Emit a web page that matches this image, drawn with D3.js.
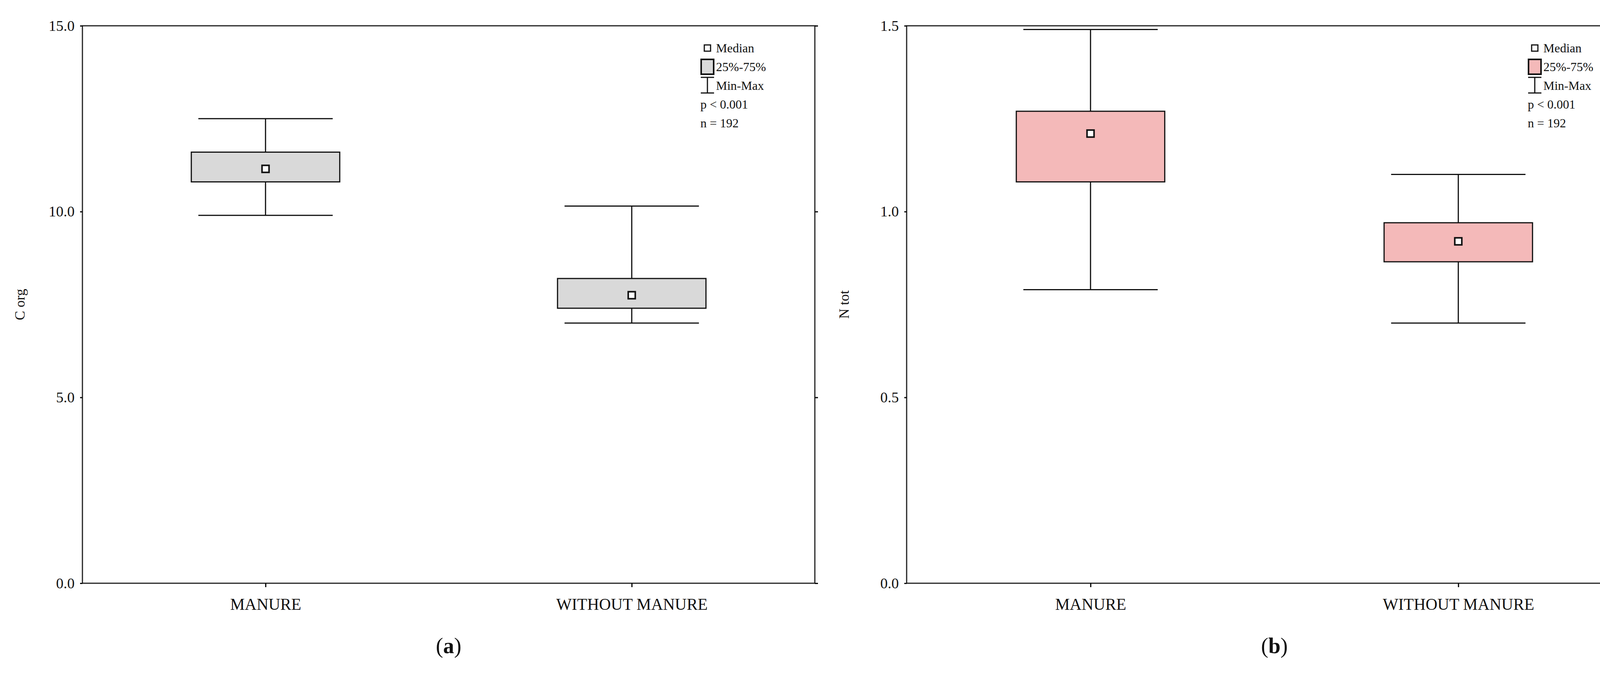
<!DOCTYPE html>
<html>
<head>
<meta charset="UTF-8">
<script src="https://d3js.org/d3.v7.min.js"></script>
<style>
  body { margin: 0; background: #fff; }
  text { font-family: "Liberation Serif", "DejaVu Serif", serif; fill: #111; }
</style>
</head>
<body>
<svg id="chart" width="4303" height="1733"></svg>
<script>
// data
const categories = ["MANURE", "WITHOUT MANURE"];
const corgMin = [9.9, 7.0];
const corgQ1 = [10.8, 7.4];
const corgMed = [11.15, 7.75];
const corgQ3 = [11.6, 8.2];
const corgMax = [12.5, 10.15];
const ntotMin = [0.79, 0.70];
const ntotQ1 = [1.08, 0.865];
const ntotMed = [1.21, 0.92];
const ntotQ3 = [1.27, 0.97];
const ntotMax = [1.49, 1.10];
const corgTicks = [0, 5, 10, 15];
const ntotTicks = [0, 0.5, 1.0, 1.5];
const legendLines = ["Median", "25%-75%", "Min-Max", "p < 0.001", "n = 192"];

const svg = d3.select("#chart");

function panel(opt) {
  const left = opt.left, right = opt.right, top = 66, bottom = 1493;
  const g = svg.append("g");
  const x = d3.scalePoint().domain(categories).range([left, right]).padding(0.5);
  const y = d3.scaleLinear().domain(opt.domain).range([bottom, top]);

  g.append("rect").attr("x", left).attr("y", top)
    .attr("width", right - left).attr("height", bottom - top)
    .attr("fill", "none").attr("stroke", "#222").attr("stroke-width", 3);

  const yAxis = g.append("g").attr("transform", `translate(${left},0)`)
    .call(d3.axisLeft(y).tickValues(opt.ticks).tickFormat(d3.format(".1f")).tickSize(6).tickPadding(14));
  yAxis.select(".domain").remove();
  yAxis.selectAll("text").attr("font-size", 38);
  yAxis.selectAll("line").attr("stroke-width", 3);

  const yRight = g.append("g").attr("transform", `translate(${right},0)`)
    .call(d3.axisRight(y).tickValues(opt.ticks).tickFormat("").tickSize(8));
  yRight.select(".domain").remove();
  yRight.selectAll("line").attr("stroke-width", 3);

  const xAxis = g.append("g").attr("transform", `translate(0,${bottom})`)
    .call(d3.axisBottom(x).tickSize(10).tickPadding(28));
  xAxis.select(".domain").remove();
  xAxis.selectAll("text").attr("font-size", 42);
  xAxis.selectAll("line").attr("stroke-width", 3);

  g.append("text").attr("transform", `translate(${left - 148},${(top + bottom) / 2}) rotate(-90)`)
    .attr("text-anchor", "middle").attr("font-size", 36).text(opt.label);

  const boxW = 380, capW = 344;
  categories.forEach((c, i) => {
    const cx = x(c);
    g.append("line").attr("x1", cx).attr("x2", cx).attr("y1", y(opt.max[i])).attr("y2", y(opt.min[i])).attr("stroke", "#111").attr("stroke-width", 3);
    [opt.min[i], opt.max[i]].forEach(v => {
      g.append("line").attr("x1", cx - capW / 2).attr("x2", cx + capW / 2).attr("y1", y(v)).attr("y2", y(v)).attr("stroke", "#111").attr("stroke-width", 3);
    });
    g.append("rect").attr("x", cx - boxW / 2).attr("y", y(opt.q3[i]))
      .attr("width", boxW).attr("height", y(opt.q1[i]) - y(opt.q3[i]))
      .attr("fill", opt.fill).attr("stroke", "#111").attr("stroke-width", 3);
    g.append("rect").attr("x", cx - 9).attr("y", y(opt.med[i]) - 9).attr("width", 18).attr("height", 18)
      .attr("fill", "#fff").attr("stroke", "#111").attr("stroke-width", 4);
  });

  // legend
  const lx = right - 275, ly = 123, dy = 48;
  g.append("rect").attr("x", lx - 8).attr("y", ly - 8).attr("width", 16).attr("height", 16)
    .attr("fill", "#fff").attr("stroke", "#111").attr("stroke-width", 3);
  g.append("rect").attr("x", lx - 16).attr("y", ly + dy - 19).attr("width", 32).attr("height", 38)
    .attr("fill", opt.fill).attr("stroke", "#111").attr("stroke-width", 4);
  const my = ly + 2 * dy;
  g.append("line").attr("x1", lx - 17).attr("x2", lx + 17).attr("y1", my - 21).attr("y2", my - 21).attr("stroke", "#111").attr("stroke-width", 3);
  g.append("line").attr("x1", lx - 17).attr("x2", lx + 17).attr("y1", my + 19).attr("y2", my + 19).attr("stroke", "#111").attr("stroke-width", 3);
  g.append("line").attr("x1", lx).attr("x2", lx).attr("y1", my - 21).attr("y2", my + 19).attr("stroke", "#111").attr("stroke-width", 3);
  legendLines.forEach((t, i) => {
    g.append("text").attr("x", i < 3 ? lx + 22 : lx - 18).attr("y", ly + i * dy + 11)
      .attr("font-size", 32).text(t);
  });

  svg.append("text").attr("x", (left + right) / 2).attr("y", 1672).attr("text-anchor", "middle")
    .attr("font-size", 56).html(`(<tspan font-weight="bold">${opt.caption}</tspan>)`);
}

panel({ left: 211, right: 2086, domain: [0, 15], ticks: corgTicks, label: "C org", fill: "#d9d9d9",
  min: corgMin, q1: corgQ1, med: corgMed, q3: corgQ3, max: corgMax, caption: "a" });
panel({ left: 2321, right: 4204, domain: [0, 1.5], ticks: ntotTicks, label: "N tot", fill: "#f4b9b9",
  min: ntotMin, q1: ntotQ1, med: ntotMed, q3: ntotQ3, max: ntotMax, caption: "b" });
</script>
</body>
</html>
